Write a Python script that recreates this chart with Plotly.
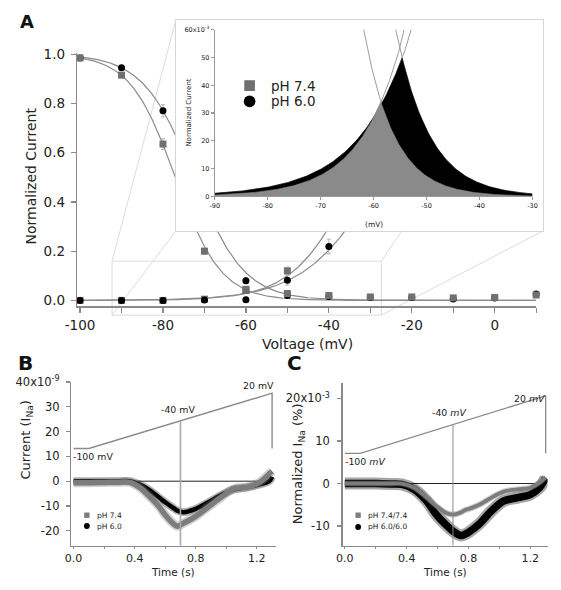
import numpy as np
import plotly.graph_objects as go

# The page keeps an 8 px body margin, so the figure is 16 px smaller than the
# 561x590 window and positions are given in window pixels shifted by that margin.
WIN_W, WIN_H = 561, 590
OFF = 8
W, H = WIN_W - 2 * OFF, WIN_H - 2 * OFF
FONT = "DejaVu Sans"


def fx(p):
    return (p - OFF) / W


def fy(p):
    return 1 - (p - OFF) / H


# ---------------- Panel A: normalized current vs voltage ----------------
inact74_v = [-100, -90, -80, -70, -60, -50, -40, -30, -20, -10, 0, 10]
inact74_y = [0.985, 0.915, 0.635, 0.200, 0.045, 0.028, 0.020, 0.014, 0.014, 0.010, 0.012, 0.022]
inact74_e = [0.004, 0.008, 0.022, 0.012, 0.006, 0.006, 0.006, 0.004, 0.004, 0.006, 0.006, 0.008]

inact60_v = [-100, -90, -80, -60, -50, -40, -30, -20, -10, 0, 10]
inact60_y = [0.985, 0.945, 0.770, 0.080, 0.020, 0.016, 0.012, 0.012, 0.006, 0.010, 0.026]
inact60_e = [0.004, 0.008, 0.025, 0.012, 0.006, 0.006, 0.004, 0.004, 0.006, 0.006, 0.010]

act74_v = [-100, -90, -80, -70, -60, -50]
act74_y = [0.0, 0.0, 0.0, 0.005, 0.040, 0.120]
act74_e = [0.002, 0.002, 0.002, 0.004, 0.008, 0.015]

act60_v = [-100, -90, -80, -70, -60, -50, -40]
act60_y = [0.0, 0.0, 0.0, 0.002, 0.003, 0.082, 0.219]
act60_e = [0.002, 0.002, 0.002, 0.003, 0.004, 0.020, 0.030]

# Boltzmann fits (V_half in mV, slope factor in mV)
act74_fit = (-33.5, 7.5)
inact74_fit = (-77.0, 5.5)
act60_fit = (-27.5, 9.2)
inact60_fit = (-72.6, 6.1)

volt_ticks = [-100, -80, -60, -40, -20, 0]
volt_labels = ["-100", "-80", "-60", "-40", "-20", "0"]
volt_minor = [-90, -70, -50, -30, -10, 10]
norm_ticks = [0.0, 0.2, 0.4, 0.6, 0.8, 1.0]
norm_labels = ["0.0", "0.2", "0.4", "0.6", "0.8", "1.0"]

inset_xticks = [-90, -80, -70, -60, -50, -40, -30]
inset_xlabels = ["-90", "-80", "-70", "-60", "-50", "-40", "-30"]
inset_yticks = [0, 0.01, 0.02, 0.03, 0.04, 0.05, 0.06]
inset_ylabels = ["0", "10", "20", "30", "40", "50", "60x10<sup>-3</sup>"]

# ---------------- Panel B: ramp currents ----------------
tB = [0.0, 0.10, 0.20, 0.30, 0.37, 0.43, 0.49, 0.56, 0.60, 0.66, 0.68, 0.72, 0.80, 0.88, 0.97, 1.05, 1.14, 1.22, 1.28, 1.30]
B74 = [-0.6, -0.6, -0.5, -0.4, -0.5, -2.4, -5.7, -10.3, -13.6, -17.5, -18.2, -16.9, -14.2, -10.5, -6.3, -3.0, -2.4, -0.4, 2.9, 4.0]
B60 = [0.0, 0.0, 0.0, 0.0, 0.0, -1.3, -3.3, -6.6, -8.5, -11.1, -11.9, -12.5, -11.2, -8.6, -5.5, -3.3, -2.4, -1.3, 0.0, 1.8]
rampB_t = [0.0, 0.1, 1.3, 1.3]
rampB_y = [13.2, 13.2, 35.5, 13.2]
time_ticks = [0.0, 0.4, 0.8, 1.2]
time_labels = ["0.0", "0.4", "0.8", "1.2"]
time_minor = [0.2, 0.6, 1.0]
B_yticks = [-20, -10, 0, 10, 20, 30, 40]
B_ylabels = ["-20", "-10", "0", "10", "20", "30", "40x10<sup>-9</sup>"]
B_yrange = [-26.0, 40.2]

# ---------------- Panel C: normalized ramp currents ----------------
tC = [0.0, 0.10, 0.20, 0.30, 0.37, 0.45, 0.53, 0.59, 0.66, 0.70, 0.75, 0.78, 0.80, 0.87, 0.95, 1.03, 1.12, 1.20, 1.26, 1.30]
C74 = [0.0, 0.0, 0.0, 0.0, 0.0, -1.0, -3.3, -5.2, -7.0, -7.3, -6.8, -6.2, -6.0, -5.0, -3.3, -1.9, -1.4, -1.0, 0.2, 1.5]
C60 = [0.0, 0.0, 0.0, -0.1, -0.2, -1.4, -4.1, -7.2, -9.9, -11.2, -12.2, -11.9, -11.5, -9.5, -6.4, -4.1, -3.3, -2.6, -1.0, 1.3]
rampC_t = [0.0, 0.1, 1.3, 1.3]
rampC_y = [7.1, 7.1, 20.6, 7.1]
C_yticks = [-10, 0, 10, 20]
C_ylabels = ["-10", "0", "10", "20x10<sup>-3</sup>"]
C_yrange = [-14.6, 23.6]

marker_t = 0.7  # time where the ramp passes -40 mV


def act(v, p):
    return 1.0 / (1.0 + np.exp((p[0] - v) / p[1]))


def inact(v, p):
    return 1.0 / (1.0 + np.exp((v - p[0]) / p[1]))


v_fit = np.linspace(-100, 10, 441)
v_win = np.linspace(-90, -30, 481)

fig = go.Figure()


def line_tr(x, y, xa, ya, color, width, opacity=1.0, shape="linear"):
    return go.Scatter(x=x, y=y, xaxis=xa, yaxis=ya, mode="lines",
                      line=dict(color=color, width=width, shape=shape),
                      opacity=opacity, hoverinfo="skip", showlegend=False)


# --- main A: fits
for p, f in [(act74_fit, act), (inact74_fit, inact), (act60_fit, act), (inact60_fit, inact)]:
    fig.add_trace(line_tr(v_fit, f(v_fit, p), "x", "y", "#8c8c8c", 1.2))

GRAY = "#707070"


def pts(x, y, e, color, symbol):
    return go.Scatter(x=x, y=y, xaxis="x", yaxis="y", mode="markers",
                      marker=dict(symbol=symbol, size=7, color=color, line=dict(width=0)),
                      error_y=dict(type="data", array=e, color="#b5b5b5", thickness=1, width=2),
                      cliponaxis=False, hoverinfo="skip", showlegend=False)


fig.add_trace(pts(act74_v, act74_y, act74_e, GRAY, "square"))
fig.add_trace(pts(act60_v, act60_y, act60_e, "#000000", "circle"))
fig.add_trace(pts(inact60_v, inact60_y, inact60_e, "#000000", "circle"))
fig.add_trace(pts(inact74_v, inact74_y, inact74_e, GRAY, "square"))

# --- cover box (white panel behind the inset)
fig.add_trace(go.Scatter(x=[None], y=[None], xaxis="x2", yaxis="y2", showlegend=False, hoverinfo="skip"))

# --- inset: individual curves then window-current areas
for p, f in [(act74_fit, act), (inact74_fit, inact), (act60_fit, act), (inact60_fit, inact)]:
    fig.add_trace(line_tr(v_win, f(v_win, p), "x3", "y3", "#9c9c9c", 1.0))
win60 = np.minimum(act(v_win, act60_fit), inact(v_win, inact60_fit))
win74 = np.minimum(act(v_win, act74_fit), inact(v_win, inact74_fit))
fig.add_trace(go.Scatter(x=v_win, y=win60, xaxis="x3", yaxis="y3", mode="lines", fill="tozeroy",
                         fillcolor="#000000", line=dict(color="#000000", width=0.5),
                         hoverinfo="skip", showlegend=False))
fig.add_trace(go.Scatter(x=v_win, y=win74, xaxis="x3", yaxis="y3", mode="lines", fill="tozeroy",
                         fillcolor="#8a8a8a", line=dict(color="#8a8a8a", width=0.5),
                         hoverinfo="skip", showlegend=False))

# --- B
fig.add_trace(line_tr(rampB_t, rampB_y, "x4", "y4", "#8a8a8a", 1.4))
fig.add_trace(line_tr(tB, B60, "x4", "y4", "#000000", 8, 0.3, "spline"))
fig.add_trace(line_tr(tB, B60, "x4", "y4", "#000000", 4.5, 1.0, "spline"))
fig.add_trace(line_tr(tB, B74, "x4", "y4", "#7c7c7c", 9, 0.35, "spline"))
fig.add_trace(line_tr(tB, B74, "x4", "y4", "#7c7c7c", 5.5, 1.0, "spline"))

# --- C
fig.add_trace(line_tr(rampC_t, rampC_y, "x5", "y5", "#8a8a8a", 1.3))
fig.add_trace(line_tr(tC, C60, "x5", "y5", "#000000", 12, 0.35, "spline"))
fig.add_trace(line_tr(tC, C60, "x5", "y5", "#000000", 7.5, 1.0, "spline"))
fig.add_trace(line_tr(tC, C74, "x5", "y5", "#7c7c7c", 6, 0.4, "spline"))
fig.add_trace(line_tr(tC, C74, "x5", "y5", "#7c7c7c", 3.8, 1.0, "spline"))


def axis(domain, rng, anchor, tickvals=None, ticktext=None, size=13.5, ticklen=5,
         linecolor="#8a8a8a", lw=1.4, show=True, minor=None, standoff=0):
    d = dict(domain=domain, range=rng, anchor=anchor, showgrid=False, zeroline=False,
             showline=True, linecolor=linecolor, linewidth=lw, fixedrange=True)
    if show:
        d.update(ticks="outside", ticklen=ticklen, tickcolor=linecolor, tickwidth=1.2,
                 tickmode="array", tickvals=tickvals, ticktext=ticktext,
                 ticklabelstandoff=int(standoff),
                 tickfont=dict(family=FONT, size=size, color="#222222"))
        if minor is not None:
            d["minor"] = dict(tickmode="array", tickvals=minor, ticks="outside", ticklen=ticklen,
                              tickcolor=linecolor, tickwidth=1.2, showgrid=False)
    else:
        d.update(ticks="", showticklabels=False, mirror=True)
    return d


layout = dict(
    width=W, height=H, autosize=False,
    margin=dict(l=0, r=0, t=0, b=0, pad=0),
    paper_bgcolor="white", plot_bgcolor="white",
    showlegend=False,
    font=dict(family=FONT, color="#222222"),
    xaxis=axis([fx(67), fx(541)], [-100.7, 10.05], "y", volt_ticks, volt_labels, 13.5, 5,
               minor=volt_minor, standoff=1),
    yaxis=axis([fy(305), fy(47)], [-0.024, 1.004], "x", norm_ticks, norm_labels, 13.5, 5,
               standoff=3),
    xaxis2=axis([fx(169), fx(548)], [0, 1], "y2", linecolor="#d6d6d6", lw=1, show=False),
    yaxis2=axis([fy(228), fy(13)], [0, 1], "x2", linecolor="#d6d6d6", lw=1, show=False),
    xaxis3=axis([fx(209), fx(537)], [-90, -30], "y3", inset_xticks, inset_xlabels, 6.5, 3,
                linecolor="#9a9a9a", lw=1),
    yaxis3=axis([fy(193), fy(23)], [0, 0.06], "x3", inset_yticks, inset_ylabels, 6.5, 3,
                linecolor="#9a9a9a", lw=1),
    xaxis4=axis([fx(61), fx(272)], [-0.0146, 1.324], "y4", time_ticks, time_labels, 11, 2,
                minor=time_minor),
    yaxis4=axis([fy(549), fy(381.7)], B_yrange, "x4", B_yticks, B_ylabels, 11.5, 4,
                standoff=4),
    xaxis5=axis([fx(341), fx(552.5)], [-0.0144, 1.312], "y5", time_ticks, time_labels, 11, 2,
                minor=time_minor),
    yaxis5=axis([fy(549), fy(383.3)], C_yrange, "x5", C_yticks, C_ylabels, 11.5, 4,
                standoff=5),
)
fig.update_layout(**layout)

# zoom rectangle and projection lines (paper coords, drawn below everything)
LC = "#dcdcdc"
shapes = [
    dict(type="rect", xref="paper", yref="paper", x0=fx(103), x1=fx(381), y0=fy(314), y1=fy(259),
         line=dict(color=LC, width=1), layer="below"),
]
for (a, b) in [((103, 259), (169, 13)), ((103, 314), (169, 228)),
               ((381, 259), (548, 13)), ((381, 314), (548, 228))]:
    shapes.append(dict(type="line", xref="paper", yref="paper", x0=fx(a[0]), y0=fy(a[1]),
                       x1=fx(b[0]), y1=fy(b[1]), line=dict(color=LC, width=1), layer="below"))
# zero lines and -40 mV marker
shapes.append(dict(type="line", xref="x4", yref="y4", x0=0, x1=1.3, y0=0, y1=0,
                   line=dict(color="#222222", width=1), layer="below"))
shapes.append(dict(type="line", xref="x5", yref="y5", x0=0, x1=1.3, y0=0, y1=0,
                   line=dict(color="#222222", width=1), layer="below"))
shapes.append(dict(type="line", xref="x4", yref="y4", x0=marker_t, x1=marker_t, y0=B_yrange[0],
                   y1=24.35, line=dict(color="#a8a8a8", width=1.6), layer="above"))
shapes.append(dict(type="line", xref="x5", yref="y5", x0=marker_t, x1=marker_t, y0=C_yrange[0],
                   y1=13.85, line=dict(color="#8a8a8a", width=1), layer="above"))


# legend glyphs (paper coords)
def glyph(kind, cx, cy, size, color):
    h = size / 2.0
    return dict(type=kind, xref="paper", yref="paper", x0=fx(cx - h), x1=fx(cx + h),
                y0=fy(cy + h), y1=fy(cy - h), fillcolor=color, line=dict(width=0), layer="above")


shapes += [
    glyph("rect", 245, 80, 11, GRAY), glyph("circle", 245, 96, 12, "#000000"),
    glyph("rect", 77, 518, 5.5, "#7c7c7c"), glyph("circle", 77, 529, 6, "#000000"),
    glyph("rect", 357, 518, 5.5, "#7c7c7c"), glyph("circle", 357, 530, 6, "#000000"),
]
fig.update_layout(shapes=shapes)


def ann(text, x, y, size, xanchor="center", angle=0, color="#222222", bold=False):
    t = "<b>%s</b>" % text if bold else text
    return dict(text=t, x=fx(x), y=fy(y), xref="paper", yref="paper", showarrow=False,
                xanchor=xanchor, yanchor="middle", textangle=angle, borderpad=0,
                font=dict(family=FONT, size=size, color=color))


anns = [
    ann("A", 15, 15, 18, bold=True, color="#111111"),
    ann("B", 14, 363, 20, bold=True, color="#111111"),
    ann("C", 291, 363, 20, bold=True, color="#111111"),
    ann("Voltage (mV)", 305, 343, 14),
    ann("Normalized Current", 19, 172, 14, angle=-90),
    ann("Normalized Current", 183, 108, 7, angle=-90),
    ann("(mV)", 373, 222, 7.5),
    # inset legend
    ann("pH 7.4", 266, 80, 13.5, xanchor="left"),
    ann("pH 6.0", 266, 96, 13.5, xanchor="left"),
    # B
    ann("Time (s)", 166, 575.5, 10.5),
    ann("Current (I<sub>Na</sub>)", 15, 441, 13, angle=-90),
    ann("-100 mV", 62, 458, 9.4, xanchor="left"),
    ann("-40 mV", 171, 410, 9.4),
    ann("20 mV", 271, 386, 9.4, xanchor="right"),
    ann("pH 7.4", 86, 518, 7.5, xanchor="left"),
    ann("pH 6.0", 86, 529, 7.5, xanchor="left"),
    # C
    ann("Time (s)", 447, 575.5, 10.5),
    ann("Normalized I<sub>Na</sub> (%)", 295, 466, 13, angle=-90),
    ann("-100 <i>mV</i>", 342, 463, 9.4, xanchor="left"),
    ann("-40 <i>mV</i>", 451, 413, 9.4),
    ann("20 <i>mV</i>", 551, 398.5, 9.4, xanchor="right"),
    ann("pH 7.4/7.4", 366, 518, 7.5, xanchor="left"),
    ann("pH 6.0/6.0", 366, 530, 7.5, xanchor="left"),
]
fig.update_layout(annotations=anns)

fig.write_html("out.html", config={"displayModeBar": False, "staticPlot": True})
